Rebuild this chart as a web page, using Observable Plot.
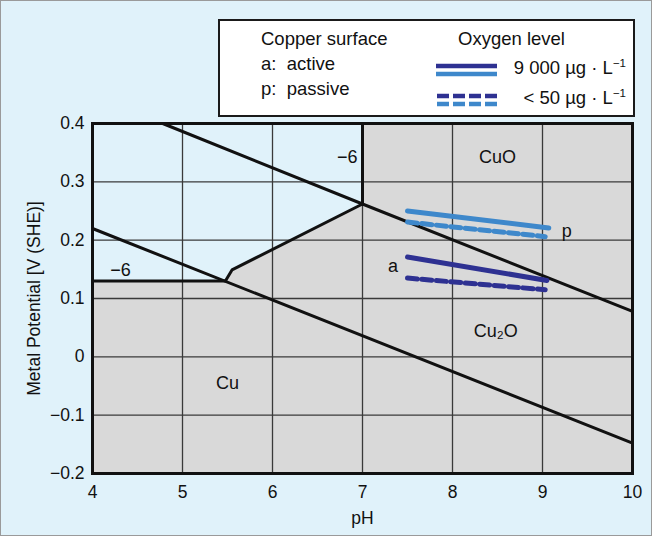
<!DOCTYPE html>
<html><head><meta charset="utf-8">
<script src="https://cdn.jsdelivr.net/npm/d3@7"></script>
<script src="https://cdn.jsdelivr.net/npm/@observablehq/plot@0.6"></script>
<style>
body{margin:0;background:#e0f2fa;font-family:"Liberation Sans",Arial,sans-serif;}
#wrap{position:relative;width:652px;height:536px;background:#e0f2fa;}
#border{position:absolute;left:0;top:0;width:652px;height:536px;box-sizing:border-box;border:1px solid #9a9a9a;pointer-events:none;}
#legend{position:absolute;left:218px;top:19px;width:417px;height:98px;box-sizing:border-box;border:2px solid #1a1a1a;background:#fff;font-size:18.5px;color:#111;line-height:20px;}
#legend div{position:absolute;white-space:nowrap;}
#legend svg{position:absolute;}
sup{font-size:11.5px;vertical-align:7px;line-height:0;}
</style></head>
<body><div id="wrap"><div id="chart"></div>
<div id="legend">
 <div style="left:41px;top:8px">Copper surface</div>
 <div style="left:41px;top:33px">a:&nbsp; active</div>
 <div style="left:41px;top:58px">p:&nbsp; passive</div>
 <div style="left:238px;top:8px">Oxygen level</div>
 <div style="right:7px;top:37px">9 000 µg · L<sup>−1</sup></div>
 <div style="right:7px;top:67px">&lt; 50 µg · L<sup>−1</sup></div>
 <svg style="left:216px;top:40px" width="62" height="50">
  <line x1="0" x2="61" y1="5" y2="5" stroke="#2e3192" stroke-width="4.5"/>
  <line x1="0" x2="61" y1="13" y2="13" stroke="#3e88cb" stroke-width="4.5"/>
  <line x1="1" x2="61" y1="35" y2="35" stroke="#2e3192" stroke-width="4.5" stroke-dasharray="12,4"/>
  <line x1="1" x2="61" y1="43" y2="43" stroke="#3e88cb" stroke-width="4.5" stroke-dasharray="12,4"/>
 </svg>
</div>
<div id="border"></div></div>
<script>
// Domain & ticks
const xTicks = [4,5,6,7,8,9,10];
const yTicks = [-0.2,-0.1,0,0.1,0.2,0.3,0.4];

// Light-blue (non-gray) region: lower boundary, top = 0.4
const blueRegionX = [4, 5.48, 5.55, 7];
const blueRegionY = [0.13, 0.131, 0.149, 0.262];

// Black boundary lines
const upperLineX = [4.78, 7, 10];
const upperLineY = [0.4, 0.262, 0.078];
const lowerLineX = [4, 10];
const lowerLineY = [0.22, -0.148];
const verticalX = [7, 7];
const verticalY = [0.262, 0.4];
const horizX = [4, 5.48];
const horizY = [0.13, 0.13];
const kinkX = [5.48, 5.55, 7];
const kinkY = [0.131, 0.149, 0.262];

// Measured potential lines
const pSolidX = [7.5, 9.07], pSolidY = [0.250, 0.221];
const pDashX = [7.5, 9.03], pDashY = [0.231, 0.206];
const aSolidX = [7.5, 9.05], aSolidY = [0.171, 0.131];
const aDashX = [7.5, 9.03], aDashY = [0.135, 0.115];

// Text labels
const labelText = ["CuO", "Cu₂O", "Cu", "−6", "−6", "a", "p"];
const labelX = [8.5, 8.48, 5.5, 6.83, 4.31, 7.34, 9.27];
const labelY = [0.342, 0.044, -0.046, 0.342, 0.148, 0.155, 0.215];

const zip = (xs, ys) => xs.map((x, i) => ({x, y: ys[i]}));
const blueRegion = blueRegionX.map((x, i) => ({x, y1: blueRegionY[i], y2: 0.4}));
const labels = labelText.map((t, i) => ({t, x: labelX[i], y: labelY[i]}));
const fmt = d => d < 0 ? "\u2212" + Math.abs(d) : String(d);

const black = {x: "x", y: "y", stroke: "#111", strokeWidth: 3};
const plot = Plot.plot({
  width: 652, height: 536,
  marginLeft: 92, marginRight: 20, marginTop: 123, marginBottom: 63,
  style: {background: "transparent", fontFamily: "Liberation Sans, Arial, sans-serif", color: "#111"},
  x: {domain: [4, 10]},
  y: {domain: [-0.2, 0.4]},
  marks: [
    Plot.frame({fill: "#d9d9d9", stroke: null}),
    Plot.areaY(blueRegion, {x: "x", y1: "y1", y2: "y2", fill: "#e0f2fa", curve: "linear"}),
    Plot.gridX(xTicks.slice(1, -1), {stroke: "#3a3a3a", strokeOpacity: 1, strokeWidth: 1.3}),
    Plot.gridY(yTicks.slice(1, -1), {stroke: "#3a3a3a", strokeOpacity: 1, strokeWidth: 1.3}),
    Plot.line(zip(upperLineX, upperLineY), black),
    Plot.line(zip(lowerLineX, lowerLineY), black),
    Plot.line(zip(verticalX, verticalY), black),
    Plot.line(zip(horizX, horizY), black),
    Plot.line(zip(kinkX, kinkY), black),
    Plot.line(zip(pSolidX, pSolidY), {x: "x", y: "y", stroke: "#3e88cb", strokeWidth: 5}),
    Plot.line(zip(pDashX, pDashY), {x: "x", y: "y", stroke: "#3e88cb", strokeWidth: 5, strokeDasharray: "10,4.5"}),
    Plot.line(zip(aSolidX, aSolidY), {x: "x", y: "y", stroke: "#2e3192", strokeWidth: 5}),
    Plot.line(zip(aDashX, aDashY), {x: "x", y: "y", stroke: "#2e3192", strokeWidth: 5, strokeDasharray: "10,4.5"}),
    Plot.text(labels, {x: "x", y: "y", text: "t", fontSize: 18, fill: "#111"}),
    Plot.frame({stroke: "#111", strokeWidth: 3}),
    Plot.axisX(xTicks, {tickSize: 0, tickPadding: 12, fontSize: 17.5, tickFormat: fmt,
      label: "pH", labelAnchor: "center", labelOffset: 50, labelArrow: "none"}),
    Plot.axisY(yTicks, {tickSize: 0, tickPadding: 8, fontSize: 17.5, tickFormat: fmt,
      label: "Metal Potential [V (SHE)]", labelAnchor: "center", labelOffset: 65, labelArrow: "none"})
  ]
});
document.getElementById("chart").appendChild(plot);
</script></body></html>
